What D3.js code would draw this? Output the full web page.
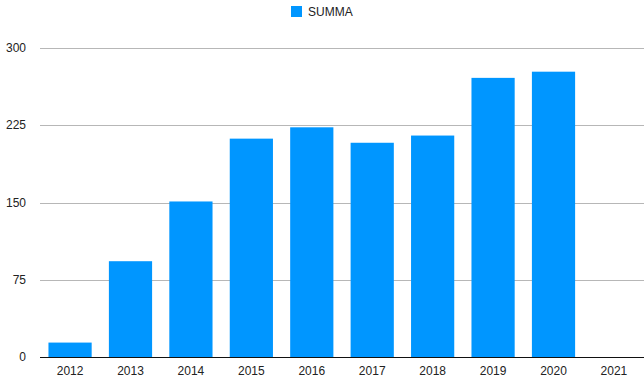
<!DOCTYPE html>
<html><head><meta charset="utf-8">
<script src="https://cdn.jsdelivr.net/npm/d3@7"></script>
<style>body{margin:0;background:#fff}svg{display:block;font-family:"Liberation Sans",Arial,sans-serif}</style>
</head><body><svg id="c" width="644" height="380"></svg>
<script>
const categories = ["2012","2013","2014","2015","2016","2017","2018","2019","2020","2021"];
const summa = [14, 93, 151, 212, 223, 208, 215, 271, 277, null];
const yTicks = [0, 75, 150, 225, 300];
const seriesName = "SUMMA";

(function () {
const svg = d3.select("#c");
const mLeft = 40, mRight = 644, mTop = 48, mBottom = 357;
const x = d3.scaleBand().domain(categories).range([mLeft, mRight]).paddingInner(0.285).paddingOuter(0.14);
const y = d3.scaleLinear().domain([0, 300]).range([mBottom, mTop]);
const color = "#0096FF";

svg.append("g").selectAll("line").data(yTicks.filter(d => d > 0)).join("line")
  .attr("x1", mLeft).attr("x2", mRight)
  .attr("y1", d => Math.round(y(d)) + 0.5).attr("y2", d => Math.round(y(d)) + 0.5)
  .attr("stroke", "#b7b7b7").attr("stroke-width", 1);

svg.append("g").selectAll("text").data(yTicks).join("text")
  .attr("x", 26).attr("y", d => y(d) + 4)
  .attr("text-anchor", "end").attr("font-size", 12).attr("fill", "#222")
  .text(d => d);

svg.append("g").selectAll("rect").data(categories.map((c, i) => ({c, v: summa[i]})).filter(d => d.v != null)).join("rect")
  .attr("x", d => x(d.c)).attr("width", x.bandwidth())
  .attr("y", d => y(d.v)).attr("height", d => y(0) - y(d.v))
  .attr("fill", color);

svg.append("line").attr("x1", mLeft).attr("x2", mRight)
  .attr("y1", mBottom + 0.5).attr("y2", mBottom + 0.5)
  .attr("stroke", "#111").attr("stroke-width", 1.2);

svg.append("g").selectAll("text").data(categories).join("text")
  .attr("x", d => x(d) + x.bandwidth() / 2).attr("y", 375)
  .attr("text-anchor", "middle").attr("font-size", 12).attr("fill", "#222")
  .text(d => d);

const lg = svg.append("g");
lg.append("rect").attr("x", 291).attr("y", 6).attr("width", 11).attr("height", 11).attr("fill", color);
lg.append("text").attr("x", 308).attr("y", 16).attr("font-size", 12).attr("fill", "#222").text(seriesName);
})();
</script></body></html>
